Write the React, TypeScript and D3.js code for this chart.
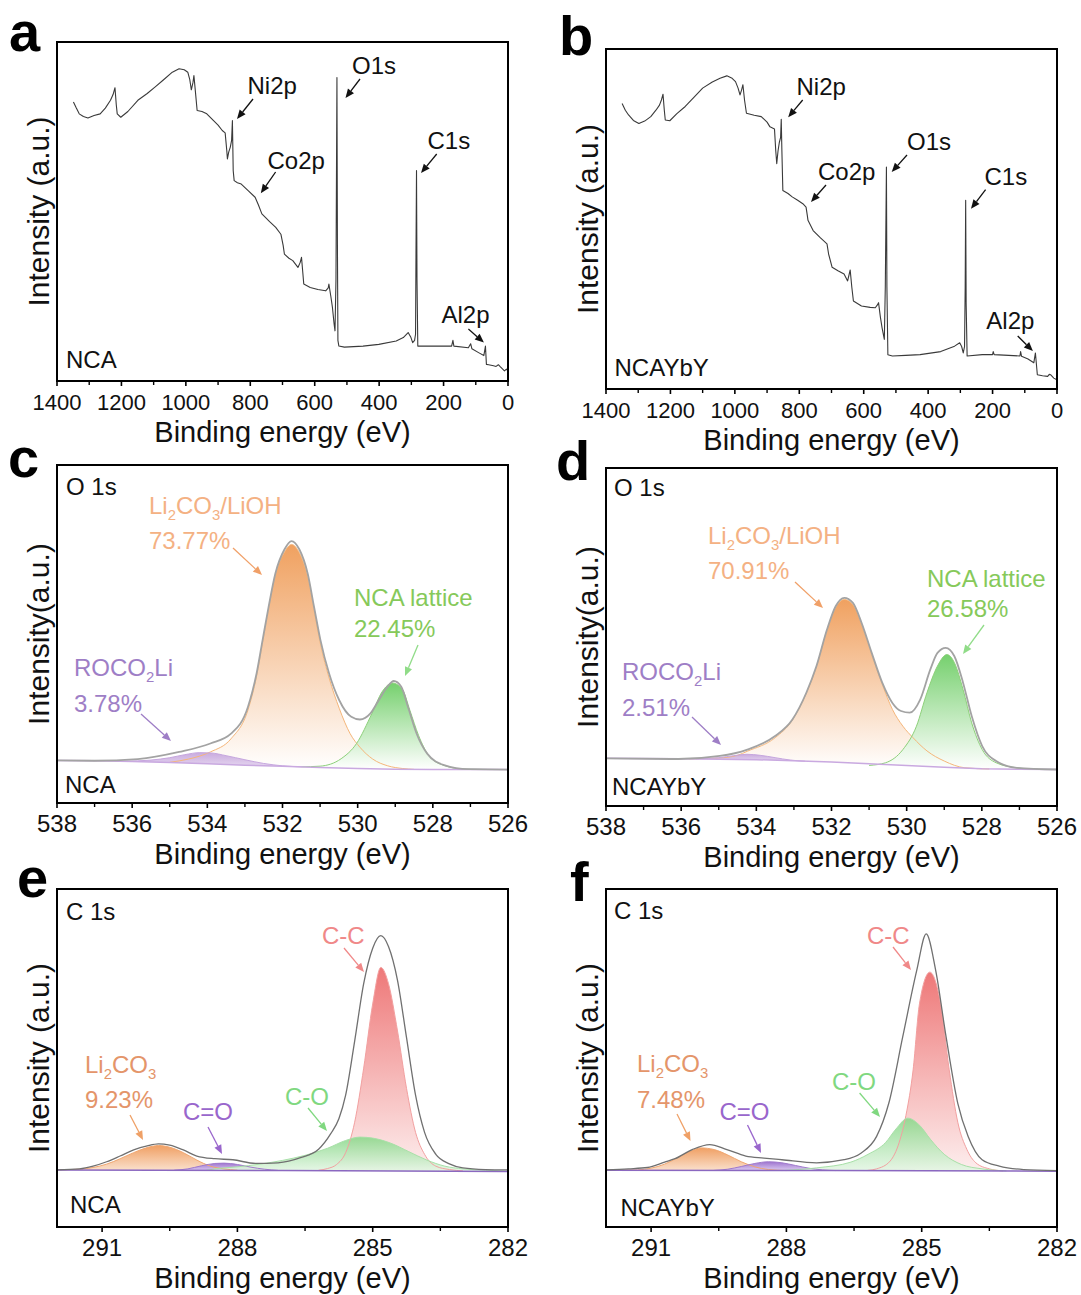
import React from "react";
import * as d3 from "d3";

type Pt = [number, number];

const FONT = "'Liberation Sans', Arial, Helvetica, sans-serif";

// ---------- axis ticks ----------
const surveyTicks = [1400, 1200, 1000, 800, 600, 400, 200, 0];
const surveyMinorTicks = [1300, 1100, 900, 700, 500, 300, 100];
const o1sTicks = [538, 536, 534, 532, 530, 528, 526];
const o1sMinorTicks = [537, 535, 533, 531, 529, 527];
const c1sTicks = [291, 288, 285, 282];
const c1sMinorTicks = [289.5, 286.5, 283.5];

// ---------- survey spectra (binding energy eV, intensity % of frame) ----------
const surveyNCA: Pt[] = [
  [1349, 82.3], [1340, 80.5], [1331, 78.8], [1318, 78.0], [1304, 77.6], [1285, 78.3], [1266, 78.8],
  [1250, 80.5], [1234, 82.8], [1226, 84.5], [1220, 86.5], [1216, 81.5], [1213, 78.8], [1202, 77.8],
  [1180, 79.5], [1149, 82.8], [1120, 84.8], [1096, 86.7], [1070, 88.8], [1042, 91.1], [1021, 92.1],
  [1005, 91.8], [994, 91.1], [988, 89.0], [983, 85.9], [978, 88.0], [975, 90.1], [970, 85.0],
  [965, 79.8], [950, 79.5], [935, 78.8], [914, 76.8], [900, 75.5], [887, 73.9], [878, 73.2],
  [873, 68.0], [871, 65.5], [867, 67.5], [862, 69.0], [858, 71.0], [855.5, 76.8], [853, 62.0],
  [850, 59.1], [840, 58.5], [828, 58.1], [805, 56.0], [785, 54.2], [775, 52.0], [764, 49.3],
  [740, 47.0], [721, 45.3], [705, 43.3], [698, 40.0], [694, 37.4], [680, 36.2], [668, 35.5],
  [652, 33.5], [645, 35.0], [641, 36.5], [637, 32.0], [634, 28.6], [614, 27.6], [590, 27.0],
  [566, 26.6], [558, 27.5], [556, 28.6], [550, 25.0], [545, 21.7], [540, 17.0], [537, 14.8],
  [534, 30.0], [532.5, 60.0], [531, 89.5], [529.5, 40.0], [528, 12.0], [525, 10.3], [508, 10.0],
  [450, 10.3], [401, 10.8], [347, 11.8], [325, 12.8], [310, 14.3], [302, 13.0], [296, 11.3],
  [290, 12.0], [287, 13.8], [285.5, 40.0], [284, 62.1], [282.5, 30.0], [280, 10.3], [235, 10.3],
  [175, 10.3], [171, 12.0], [168, 10.3], [123, 9.8], [116, 11.0], [112, 9.5], [90, 8.3],
  [75, 7.5], [70, 10.3], [67, 4.9], [60, 4.8], [45, 4.5], [37, 4.3], [30, 4.8], [25, 4.3],
  [11, 3.0], [5, 3.5], [3, 3.2]
];

const surveyNCAYbY: Pt[] = [
  [1350, 84.0], [1340, 82.0], [1330, 80.6], [1315, 79.0], [1298, 78.1], [1280, 78.8], [1261, 80.1],
  [1245, 82.0], [1234, 83.5], [1228, 85.0], [1223, 86.7], [1219, 82.0], [1216, 79.1], [1202, 78.9],
  [1180, 81.0], [1154, 83.1], [1125, 86.0], [1100, 88.5], [1070, 90.3], [1046, 91.4], [1025, 92.1],
  [1010, 91.5], [998, 90.4], [990, 88.5], [984, 86.5], [979, 88.0], [975, 89.5], [970, 85.0],
  [964, 81.1], [940, 80.5], [918, 80.1], [900, 78.5], [891, 77.1], [877, 76.5], [873, 70.0],
  [870, 66.3], [866, 70.0], [862, 72.5], [858, 74.0], [856, 79.3], [854, 70.0], [851, 58.4],
  [835, 57.5], [822, 56.5], [805, 55.5], [789, 54.5], [779, 53.5], [775, 51.0], [773, 49.6],
  [757, 46.6], [735, 44.5], [714, 42.7], [709, 39.7], [698, 35.8], [680, 34.8], [661, 33.8],
  [650, 31.8], [642, 35.0], [637, 30.0], [632, 25.9], [607, 24.4], [580, 24.0], [564, 23.9],
  [557, 24.8], [554, 25.4], [548, 21.0], [543, 18.0], [536, 14.6], [533, 30.0], [531, 50.0],
  [529.5, 65.3], [528, 30.0], [525, 10.1], [511, 9.7], [470, 9.9], [425, 10.1], [361, 11.0],
  [318, 12.6], [302, 13.6], [296, 12.5], [291, 10.6], [287, 12.5], [285, 30.0], [283.5, 55.5],
  [282, 25.0], [279, 9.7], [232, 10.1], [200, 10.1], [198, 11.0], [195, 10.1], [150, 9.9],
  [115, 9.7], [113, 11.0], [110, 9.6], [90, 8.8], [72, 7.7], [67, 10.6], [61, 4.2], [45, 3.9],
  [29, 3.7], [24, 4.3], [20, 4.2], [10, 3.2], [2, 2.8]
];

// ---------- O 1s, NCA ----------
const o1sEnvNCA: Pt[] = [
  [538, 12.6], [537, 12.5], [535.85, 13.0], [534.75, 15.1], [533.92, 17.6], [533.37, 20.5],
  [532.92, 28.4], [532.69, 38.3], [532.53, 48.2], [532.37, 58.0], [532.19, 67.9], [531.95, 75.0],
  [531.76, 77.5], [531.55, 75.0], [531.33, 67.9], [531.16, 58.0], [530.99, 48.2], [530.76, 38.3],
  [530.49, 30.4], [530.17, 25.5], [529.94, 24.7], [529.66, 26.5], [529.44, 30.4], [529.21, 34.4],
  [529.04, 36.1], [528.84, 34.4], [528.66, 28.4], [528.43, 20.5], [528.15, 14.6], [527.7, 11.2],
  [527.05, 10.0], [526, 9.9]
];
const o1sLi2CO3NCA: Pt[] = [
  [535, 12.05], [534.5, 13.0], [533.92, 15.1], [533.37, 19.0], [532.92, 27.5], [532.69, 37.5],
  [532.53, 47.5], [532.37, 57.5], [532.19, 67.5], [531.95, 74.2], [531.76, 76.5], [531.55, 74.0],
  [531.33, 67.0], [531.16, 57.0], [530.99, 47.0], [530.76, 37.0], [530.49, 28.0], [530.2, 20.5],
  [529.94, 16.5], [529.6, 13.0], [529.2, 11.0], [528.8, 10.2], [528.5, 9.95]
];
const o1sLatticeNCA: Pt[] = [
  [531.5, 10.7], [531, 10.9], [530.44, 13.1], [530.03, 17.6], [529.62, 26.5], [529.35, 32.9],
  [529.07, 35.5], [528.8, 33.4], [528.61, 27.4], [528.38, 20.0], [528.11, 14.1], [527.7, 11.1],
  [527.15, 10.0], [526.5, 9.9]
];
const o1sROCO2LiNCA: Pt[] = [
  [536.2, 12.35], [535.5, 12.7], [535, 13.4], [534.6, 14.3], [534.2, 14.9], [533.9, 14.8],
  [533.5, 14.0], [533, 12.8], [532.5, 11.7], [532, 11.0], [531.5, 10.7]
];
const o1sBgNCA: Pt[] = [
  [538, 12.6], [537, 12.5], [536, 12.3], [535, 12.0], [534, 11.6], [533, 11.2], [532, 10.9],
  [531, 10.5], [530, 10.2], [529, 10.0], [528, 9.9], [526, 9.9]
];

// ---------- O 1s, NCAYbY ----------
const o1sEnvYbY: Pt[] = [
  [538, 14.1], [536.07, 13.9], [534.97, 14.8], [534.24, 16.7], [533.5, 20.7], [533.04, 25.6],
  [532.67, 33.5], [532.4, 41.4], [532.12, 52.2], [531.89, 59.1], [531.66, 61.6], [531.43, 60.1],
  [531.2, 54.2], [530.93, 45.3], [530.65, 36.5], [530.38, 30.5], [530.15, 28.1], [529.92, 27.6],
  [529.64, 31.5], [529.37, 40.4], [529.18, 45.3], [528.96, 46.8], [528.73, 44.3], [528.5, 36.5],
  [528.27, 26.6], [527.99, 17.7], [527.62, 13.3], [527.07, 11.3], [526, 10.8]
];
const o1sLi2CO3YbY: Pt[] = [
  [535.8, 13.95], [535, 14.2], [534.5, 15.0], [534.24, 16.2], [533.5, 20.2], [533.04, 25.4],
  [532.67, 33.3], [532.4, 41.2], [532.12, 52.0], [531.89, 58.7], [531.66, 61.1], [531.43, 59.6],
  [531.2, 53.8], [530.93, 44.8], [530.65, 36.0], [530.38, 28.6], [530.1, 23.6], [529.83, 20.2],
  [529.46, 16.3], [529.0, 13.3], [528.45, 11.3], [527.8, 10.95]
];
const o1sLatticeYbY: Pt[] = [
  [531, 12.0], [530.56, 12.8], [530.1, 16.7], [529.74, 23.6], [529.46, 33.5], [529.18, 41.4],
  [528.93, 44.8], [528.73, 42.4], [528.5, 34.5], [528.27, 24.6], [527.99, 16.7], [527.62, 12.8],
  [527.07, 11.3], [526.5, 10.85]
];
const o1sROCO2LiYbY: Pt[] = [
  [535.6, 13.95], [535, 14.3], [534.6, 14.9], [534.25, 15.3], [533.9, 15.0], [533.5, 14.3],
  [533.1, 13.6], [532.7, 13.25]
];
const o1sBgYbY: Pt[] = [
  [538, 14.1], [536, 14.0], [534, 13.7], [532, 13.0], [530, 12.0], [529, 11.5], [528, 11.0],
  [527, 10.85], [526, 10.8]
];

// ---------- C 1s, NCA ----------
const c1sEnvNCA: Pt[] = [
  [292, 16.9], [291.5, 17.2], [291.2, 18.0], [290.9, 19.3], [290.6, 21.0], [290.3, 22.8],
  [290, 24.0], [289.75, 24.6], [289.5, 24.2], [289.2, 22.8], [288.9, 21.0], [288.5, 20.2],
  [288.1, 19.9], [287.6, 18.8], [287.1, 19.0], [286.6, 20.5], [286.2, 23.0], [285.93, 27.6],
  [285.75, 32.0], [285.6, 39.0], [285.4, 55.0], [285.2, 72.0], [285.0, 82.5], [284.82, 86.2],
  [284.65, 83.0], [284.45, 73.0], [284.25, 56.0], [284.05, 39.0], [283.85, 28.0], [283.6, 21.5],
  [283.3, 18.7], [283, 17.5], [282.5, 17.0], [282, 16.9]
];
const c1sCCNCA: Pt[] = [
  [286.2, 16.8], [286.0, 17.3], [285.8, 18.5], [285.6, 22.0], [285.4, 31.0], [285.2, 47.0],
  [285.0, 66.0], [284.82, 76.8], [284.65, 72.0], [284.45, 58.0], [284.25, 41.0], [284.05, 28.0],
  [283.85, 21.5], [283.6, 18.0], [283.3, 17.0], [283.0, 16.6]
];
const c1sCONCA: Pt[] = [
  [288.7, 16.75], [288.5, 17.2], [288, 17.8], [287.5, 18.6], [287, 19.7], [286.5, 21.2],
  [286, 23.3], [285.6, 25.6], [285.28, 26.6], [285, 26.3], [284.6, 24.8], [284.2, 22.3],
  [283.8, 19.8], [283.4, 18.0], [283, 17.2], [282.5, 16.8], [282, 16.5]
];
const c1sLi2CO3NCA: Pt[] = [
  [292, 16.9], [291.5, 17.1], [291.2, 17.6], [290.9, 18.6], [290.6, 20.2], [290.3, 22.0],
  [290.0, 23.5], [289.75, 24.1], [289.5, 23.6], [289.2, 22.0], [288.9, 19.8], [288.6, 18.0],
  [288.3, 17.2], [288, 16.8]
];
const c1sCdONCA: Pt[] = [
  [289.4, 16.8], [289.1, 17.2], [288.8, 18.1], [288.5, 18.8], [288.3, 18.9], [288.0, 18.5],
  [287.7, 17.7], [287.4, 17.1], [287.1, 16.75]
];
const c1sBgNCA: Pt[] = [[292, 16.9], [287, 16.7], [282, 16.4]];

// ---------- C 1s, NCAYbY ----------
const c1sEnvYbY: Pt[] = [
  [292, 16.9], [291.5, 17.2], [291.08, 17.6], [290.7, 19.2], [290.47, 20.2], [290.09, 22.9],
  [289.7, 24.4], [289.32, 22.9], [288.9, 21.0], [288.5, 20.4], [288.1, 19.9], [287.33, 19.0],
  [286.72, 19.9], [286.34, 21.9], [286.0, 26.8], [285.73, 36.6], [285.42, 56.3], [285.11, 75.9],
  [284.9, 86.7], [284.69, 75.9], [284.46, 56.3], [284.2, 36.6], [283.97, 26.8], [283.66, 19.9],
  [283.28, 18.0], [282.74, 17.0], [282, 16.7]
];
const c1sCCYbY: Pt[] = [
  [286.2, 16.75], [286.0, 17.2], [285.7, 19.5], [285.5, 25.0], [285.35, 33.0], [285.19, 46.5],
  [285.05, 66.0], [284.82, 75.4], [284.58, 66.0], [284.39, 46.5], [284.2, 31.0], [284.0, 23.0],
  [283.8, 19.0], [283.5, 17.2], [283.2, 16.6]
];
const c1sCOYbY: Pt[] = [
  [288.1, 16.7], [287.33, 17.5], [286.57, 19.2], [286.19, 21.5], [285.8, 25.0], [285.57, 29.0],
  [285.31, 32.2], [285.04, 30.0], [284.81, 26.0], [284.5, 21.5], [284.12, 18.5], [283.66, 17.2],
  [283.12, 16.6]
];
const c1sLi2CO3YbY: Pt[] = [
  [292, 16.8], [291.3, 16.9], [291, 17.4], [290.7, 18.6], [290.4, 20.6], [290.1, 22.6],
  [289.9, 23.4], [289.6, 22.9], [289.3, 21.3], [289.0, 19.3], [288.7, 17.8], [288.4, 17.0],
  [288, 16.7]
];
const c1sCdOYbY: Pt[] = [
  [289.6, 16.75], [289.3, 17.1], [289.0, 17.9], [288.7, 18.8], [288.4, 19.3], [288.1, 19.0],
  [287.8, 18.2], [287.5, 17.4], [287.2, 16.9], [286.9, 16.7]
];
const c1sBgYbY: Pt[] = [[292, 16.8], [287, 16.7], [282, 16.5]];

// ---------- colours ----------
const O_OR_TEXT = "#F4B183";
const O_OR_ARROW = "#F0A068";
const O_GR_TEXT = "#86C95A";
const O_GR_ARROW = "#90DC88";
const O_PU_TEXT = "#9E7EC6";
const C_OR_TEXT = "#E4956A";
const C_OR_ARROW = "#EFA066";
const C_PU = "#9966CC";
const C_GR = "#80D880";
const C_RD = "#F08888";

interface CompSpec { data: Pt[]; top: string; bottom: string; stroke: string; opacity?: number; }
type Part = [string, boolean?];
interface LabelSpec { parts: Part[]; x: number; y: number; color: string; size?: number; }
interface ArrowSpec { x1: number; y1: number; x2: number; y2: number; color: string; }
interface PanelSpec {
  id: string; x0: number; x1: number; y0: number; y1: number;
  domain: [number, number]; ticks: number[]; minor: number[]; tickFont: number;
  ylabel: string; letter: string; letterX: number; letterY: number;
  survey?: Pt[]; env?: Pt[]; envColor?: string; envWidth?: number; bg?: Pt[]; bgColor?: string;
  comps?: CompSpec[]; labels: LabelSpec[]; arrows: ArrowSpec[];
}

const T = (s: string): Part[] => [[s]];
const LI2CO3_LIOH: Part[] = [["Li"], ["2", true], ["CO"], ["3", true], ["/LiOH"]];
const LI2CO3: Part[] = [["Li"], ["2", true], ["CO"], ["3", true]];
const ROCO2LI: Part[] = [["ROCO"], ["2", true], ["Li"]];

const panels: PanelSpec[] = [
  {
    id: "a", x0: 57, x1: 508, y0: 42, y1: 381, domain: [1400, 0], ticks: surveyTicks, minor: surveyMinorTicks,
    tickFont: 22, ylabel: "Intensity (a.u.)", letter: "a", letterX: 9, letterY: 51, survey: surveyNCA,
    labels: [
      { parts: T("Ni2p"), x: 247.5, y: 94.4, color: "#111" },
      { parts: T("O1s"), x: 352, y: 73.7, color: "#111" },
      { parts: T("Co2p"), x: 267.5, y: 169, color: "#111" },
      { parts: T("C1s"), x: 427.5, y: 149, color: "#111" },
      { parts: T("Al2p"), x: 441.5, y: 322.6, color: "#111" },
      { parts: T("NCA"), x: 66, y: 367.6, color: "#111" },
    ],
    arrows: [
      { x1: 253, y1: 99, x2: 237, y2: 119, color: "#111" },
      { x1: 360, y1: 79, x2: 345.5, y2: 98, color: "#111" },
      { x1: 275.6, y1: 172, x2: 260.8, y2: 193.3, color: "#111" },
      { x1: 436.7, y1: 154, x2: 421, y2: 173, color: "#111" },
      { x1: 468.4, y1: 329, x2: 483.9, y2: 342.6, color: "#111" },
    ],
  },
  {
    id: "b", x0: 606, x1: 1057, y0: 49, y1: 389, domain: [1400, 0], ticks: surveyTicks, minor: surveyMinorTicks,
    tickFont: 22, ylabel: "Intensity (a.u.)", letter: "b", letterX: 559, letterY: 55, survey: surveyNCAYbY,
    labels: [
      { parts: T("Ni2p"), x: 796.5, y: 95, color: "#111" },
      { parts: T("O1s"), x: 907, y: 149.5, color: "#111" },
      { parts: T("Co2p"), x: 818, y: 180, color: "#111" },
      { parts: T("C1s"), x: 984.5, y: 185.3, color: "#111" },
      { parts: T("Al2p"), x: 986.3, y: 329.4, color: "#111" },
      { parts: T("NCAYbY"), x: 614.5, y: 376.3, color: "#111" },
    ],
    arrows: [
      { x1: 802.7, y1: 100, x2: 788.2, y2: 117.3, color: "#111" },
      { x1: 907, y1: 155, x2: 891.7, y2: 172, color: "#111" },
      { x1: 826, y1: 185, x2: 811, y2: 202, color: "#111" },
      { x1: 985.6, y1: 189.7, x2: 971, y2: 208.8, color: "#111" },
      { x1: 1017.7, y1: 336, x2: 1032.9, y2: 351, color: "#111" },
    ],
  },
  {
    id: "c", x0: 57, x1: 508, y0: 465, y1: 803, domain: [538, 526], ticks: o1sTicks, minor: o1sMinorTicks,
    tickFont: 24, ylabel: "Intensity(a.u.)", letter: "c", letterX: 8, letterY: 477,
    env: o1sEnvNCA, envColor: "#a3a3a3", envWidth: 1.8, bg: o1sBgNCA, bgColor: "#C9A9E0",
    comps: [
      { data: o1sLi2CO3NCA, top: "#F0A160", bottom: "#FFFFFF", stroke: "#F5B67A" },
      { data: o1sROCO2LiNCA, top: "#C4A2DC", bottom: "#E2D2EE", stroke: "#C6A6DE", opacity: 0.9 },
      { data: o1sLatticeNCA, top: "#76D06E", bottom: "#FFFFFF", stroke: "#8DD07A" },
    ],
    labels: [
      { parts: T("O 1s"), x: 66, y: 495, color: "#111" },
      { parts: T("NCA"), x: 65, y: 793, color: "#111" },
      { parts: LI2CO3_LIOH, x: 149, y: 513.5, color: O_OR_TEXT },
      { parts: T("73.77%"), x: 149, y: 548.6, color: O_OR_TEXT },
      { parts: T("NCA lattice"), x: 354, y: 605.5, color: O_GR_TEXT },
      { parts: T("22.45%"), x: 354, y: 637, color: O_GR_TEXT },
      { parts: ROCO2LI, x: 74, y: 676, color: O_PU_TEXT },
      { parts: T("3.78%"), x: 74, y: 712, color: O_PU_TEXT },
    ],
    arrows: [
      { x1: 233, y1: 548, x2: 262, y2: 575, color: O_OR_ARROW },
      { x1: 418, y1: 645, x2: 405, y2: 676, color: O_GR_ARROW },
      { x1: 141, y1: 714, x2: 171, y2: 741, color: O_PU_TEXT },
    ],
  },
  {
    id: "d", x0: 606, x1: 1057, y0: 468, y1: 806, domain: [538, 526], ticks: o1sTicks, minor: o1sMinorTicks,
    tickFont: 24, ylabel: "Intensity(a.u.)", letter: "d", letterX: 556, letterY: 480,
    env: o1sEnvYbY, envColor: "#a3a3a3", envWidth: 1.8, bg: o1sBgYbY, bgColor: "#C9A9E0",
    comps: [
      { data: o1sLi2CO3YbY, top: "#F0A160", bottom: "#FFFFFF", stroke: "#F5B67A" },
      { data: o1sROCO2LiYbY, top: "#C4A2DC", bottom: "#E2D2EE", stroke: "#C6A6DE", opacity: 0.9 },
      { data: o1sLatticeYbY, top: "#76D06E", bottom: "#FFFFFF", stroke: "#8DD07A" },
    ],
    labels: [
      { parts: T("O 1s"), x: 614, y: 496, color: "#111" },
      { parts: T("NCAYbY"), x: 612, y: 795, color: "#111" },
      { parts: LI2CO3_LIOH, x: 708, y: 544, color: O_OR_TEXT },
      { parts: T("70.91%"), x: 708, y: 579, color: O_OR_TEXT },
      { parts: T("NCA lattice"), x: 927, y: 587, color: O_GR_TEXT },
      { parts: T("26.58%"), x: 927, y: 617, color: O_GR_TEXT },
      { parts: ROCO2LI, x: 622, y: 680, color: O_PU_TEXT },
      { parts: T("2.51%"), x: 622, y: 715.5, color: O_PU_TEXT },
    ],
    arrows: [
      { x1: 795, y1: 582, x2: 823, y2: 608, color: O_OR_ARROW },
      { x1: 984, y1: 625, x2: 963, y2: 654, color: O_GR_ARROW },
      { x1: 692, y1: 717, x2: 721, y2: 745, color: O_PU_TEXT },
    ],
  },
  {
    id: "e", x0: 57, x1: 508, y0: 889, y1: 1227, domain: [292, 282], ticks: c1sTicks, minor: c1sMinorTicks,
    tickFont: 24, ylabel: "Intensity (a.u.)", letter: "e", letterX: 17, letterY: 897,
    env: c1sEnvNCA, envColor: "#707070", envWidth: 1.3, bg: c1sBgNCA, bgColor: "#8B68C0",
    comps: [
      { data: c1sLi2CO3NCA, top: "#F0A064", bottom: "#FAE0CC", stroke: "#F0A670" },
      { data: c1sCdONCA, top: "#9E74D0", bottom: "#DCCCF0", stroke: "#A07ACC" },
      { data: c1sCCNCA, top: "#EE7878", bottom: "#FDEEEE", stroke: "#F2A0A0" },
      { data: c1sCONCA, top: "#8AD88A", bottom: "#E4F6E4", stroke: "#A8E0A8", opacity: 0.88 },
    ],
    labels: [
      { parts: T("C 1s"), x: 66, y: 920, color: "#111" },
      { parts: T("NCA"), x: 70, y: 1213, color: "#111" },
      { parts: LI2CO3, x: 85, y: 1073, color: C_OR_TEXT },
      { parts: T("9.23%"), x: 85, y: 1108, color: C_OR_TEXT },
      { parts: T("C=O"), x: 183, y: 1120, color: C_PU },
      { parts: T("C-O"), x: 285, y: 1105, color: C_GR },
      { parts: T("C-C"), x: 322, y: 943.5, color: C_RD },
    ],
    arrows: [
      { x1: 130, y1: 1115, x2: 143, y2: 1140, color: C_OR_ARROW },
      { x1: 208, y1: 1127, x2: 222, y2: 1154, color: C_PU },
      { x1: 308, y1: 1108, x2: 327, y2: 1131, color: C_GR },
      { x1: 344, y1: 948, x2: 364, y2: 972, color: C_RD },
    ],
  },
  {
    id: "f", x0: 606, x1: 1057, y0: 889, y1: 1227, domain: [292, 282], ticks: c1sTicks, minor: c1sMinorTicks,
    tickFont: 24, ylabel: "Intensity (a.u.)", letter: "f", letterX: 570, letterY: 901,
    env: c1sEnvYbY, envColor: "#707070", envWidth: 1.3, bg: c1sBgYbY, bgColor: "#8B68C0",
    comps: [
      { data: c1sLi2CO3YbY, top: "#F0A064", bottom: "#FAE0CC", stroke: "#F0A670" },
      { data: c1sCdOYbY, top: "#9E74D0", bottom: "#DCCCF0", stroke: "#A07ACC" },
      { data: c1sCCYbY, top: "#EE7878", bottom: "#FDEEEE", stroke: "#F2A0A0" },
      { data: c1sCOYbY, top: "#8AD88A", bottom: "#E4F6E4", stroke: "#A8E0A8", opacity: 0.88 },
    ],
    labels: [
      { parts: T("C 1s"), x: 614, y: 919, color: "#111" },
      { parts: T("NCAYbY"), x: 620.5, y: 1216, color: "#111" },
      { parts: LI2CO3, x: 637, y: 1072, color: C_OR_TEXT },
      { parts: T("7.48%"), x: 637, y: 1108, color: C_OR_TEXT },
      { parts: T("C=O"), x: 719.5, y: 1120, color: C_PU },
      { parts: T("C-O"), x: 832, y: 1090, color: C_GR },
      { parts: T("C-C"), x: 867, y: 944, color: C_RD },
    ],
    arrows: [
      { x1: 677, y1: 1114, x2: 690.5, y2: 1141, color: C_OR_ARROW },
      { x1: 747.5, y1: 1125, x2: 761, y2: 1153, color: C_PU },
      { x1: 859.6, y1: 1093, x2: 880, y2: 1117, color: C_GR },
      { x1: 893, y1: 947, x2: 911, y2: 970, color: C_RD },
    ],
  },
];

function RichText({ l }: { l: LabelSpec }) {
  const size = l.size ?? 24;
  return (
    <text x={l.x} y={l.y} fill={l.color} fontSize={size} fontFamily={FONT}>
      {l.parts.map((p, i) => {
        const sub = !!p[1];
        const prevSub = i > 0 && !!l.parts[i - 1][1];
        const dy = sub ? size * 0.25 : prevSub ? -size * 0.25 : 0;
        return (
          <tspan key={i} dy={dy} fontSize={sub ? size * 0.62 : size}>
            {p[0]}
          </tspan>
        );
      })}
    </text>
  );
}

function Arrow({ a }: { a: ArrowSpec }) {
  const ang = Math.atan2(a.y2 - a.y1, a.x2 - a.x1);
  const L = 9, W = 3.8;
  const bx = a.x2 - L * Math.cos(ang), by = a.y2 - L * Math.sin(ang);
  const pts = [
    [a.x2, a.y2],
    [bx + W * Math.sin(ang), by - W * Math.cos(ang)],
    [bx - W * Math.sin(ang), by + W * Math.cos(ang)],
  ].map((p) => p.join(",")).join(" ");
  return (
    <g>
      <line x1={a.x1} y1={a.y1} x2={bx} y2={by} stroke={a.color} strokeWidth={1.3} />
      <polygon points={pts} fill={a.color} />
    </g>
  );
}

function Panel({ p }: { p: PanelSpec }) {
  const x = d3.scaleLinear().domain(p.domain).range([p.x0, p.x1]);
  const y = d3.scaleLinear().domain([0, 100]).range([p.y1, p.y0]);
  const clipId = `clip-${p.id}`;
  const lineGen = d3.line<Pt>().x((d) => x(d[0])).y((d) => y(d[1]));
  const smooth = d3.line<Pt>().x((d) => x(d[0])).y((d) => y(d[1])).curve(d3.curveMonotoneX);
  const bgScale = p.bg
    ? d3.scaleLinear().domain(p.bg.map((d) => d[0])).range(p.bg.map((d) => d[1]))
    : null;
  const areaGen = d3
    .area<Pt>()
    .x((d) => x(d[0]))
    .y0((d) => y(bgScale ? bgScale(d[0]) : 0))
    .y1((d) => y(d[1]))
    .curve(d3.curveMonotoneX);
  const cx = (p.x0 + p.x1) / 2;
  const cy = (p.y0 + p.y1) / 2;
  return (
    <g>
      <defs>
        <clipPath id={clipId}>
          <rect x={p.x0} y={p.y0} width={p.x1 - p.x0} height={p.y1 - p.y0} />
        </clipPath>
        {(p.comps || []).map((c, i) => (
          <linearGradient key={i} id={`g-${p.id}-${i}`} x1="0" y1="0" x2="0" y2="1">
            <stop offset="0" stopColor={c.top} />
            <stop offset="1" stopColor={c.bottom} />
          </linearGradient>
        ))}
      </defs>
      <g clipPath={`url(#${clipId})`}>
        {(p.comps || []).map((c, i) => (
          <path key={`f${i}`} d={areaGen(c.data) || ""} fill={`url(#g-${p.id}-${i})`} fillOpacity={c.opacity ?? 1} />
        ))}
        {(p.comps || []).map((c, i) => (
          <path key={`s${i}`} d={smooth(c.data) || ""} fill="none" stroke={c.stroke} strokeWidth={1} />
        ))}
        {p.bg && <path d={lineGen(p.bg) || ""} fill="none" stroke={p.bgColor} strokeWidth={1.5} />}
        {p.env && <path d={smooth(p.env) || ""} fill="none" stroke={p.envColor} strokeWidth={p.envWidth} />}
        {p.survey && <path d={lineGen(p.survey) || ""} fill="none" stroke="#3a3a3a" strokeWidth={1.1} strokeLinejoin="round" />}
      </g>
      <rect x={p.x0} y={p.y0} width={p.x1 - p.x0} height={p.y1 - p.y0} fill="none" stroke="#000" strokeWidth={2} />
      {p.ticks.map((t) => (
        <g key={`t${t}`}>
          <line x1={x(t)} x2={x(t)} y1={p.y1} y2={p.y1 + 5} stroke="#000" strokeWidth={1.6} />
          <text x={x(t)} y={p.y1 + 29} textAnchor="middle" fontSize={p.tickFont} fontFamily={FONT} fill="#111">
            {t}
          </text>
        </g>
      ))}
      {p.minor.map((t) => (
        <line key={`m${t}`} x1={x(t)} x2={x(t)} y1={p.y1} y2={p.y1 + 4} stroke="#000" strokeWidth={1.4} />
      ))}
      <text x={cx} y={p.y1 + 60.5} textAnchor="middle" fontSize={29} fontFamily={FONT} fill="#111">
        Binding energy (eV)
      </text>
      <text
        transform={`translate(${p.x0 - 8.5},${cy}) rotate(-90)`}
        textAnchor="middle"
        fontSize={30}
        fontFamily={FONT}
        fill="#111"
      >
        {p.ylabel}
      </text>
      <text x={p.letterX} y={p.letterY} fontSize={56} fontWeight="bold" fontFamily={FONT} fill="#000">
        {p.letter}
      </text>
      {p.labels.map((l, i) => (
        <RichText key={i} l={l} />
      ))}
      {p.arrows.map((a, i) => (
        <Arrow key={i} a={a} />
      ))}
    </g>
  );
}

export default function App() {
  return (
    <svg
      width={1081}
      height={1295}
      viewBox="0 0 1081 1295"
      style={{ position: "absolute", left: 0, top: 0, background: "#fff" }}
    >
      <rect x={0} y={0} width={1081} height={1295} fill="#fff" />
      {panels.map((p) => (
        <Panel key={p.id} p={p} />
      ))}
    </svg>
  );
}
